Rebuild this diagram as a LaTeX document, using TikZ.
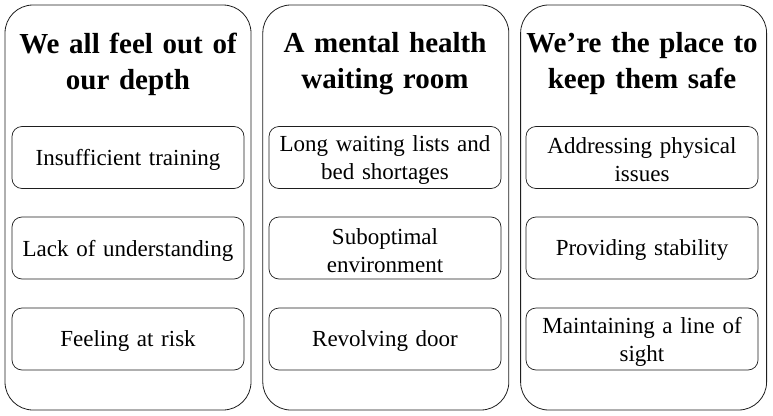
\documentclass[tikz,border=0pt]{standalone}
\usepackage{fontspec}
\setmainfont[WordSpace=0.85]{Liberation Serif}
\usepackage{tikz}
\usetikzlibrary{positioning}
\definecolor{myline}{RGB}{30,30,30}
\tikzset{
  panel/.style={rectangle, draw=myline, fill=white,
    minimum width=246pt, minimum height=405pt,
    rounded corners=28pt, line width=0.8pt},
  heading/.style={text width=240pt, align=center,
    font=\fontsize{29}{36}\selectfont\bfseries, inner sep=0pt},
  item/.style={rectangle, draw=myline, fill=white,
    minimum width=232pt, minimum height=62pt, text width=228pt,
    align=center, font=\fontsize{23}{28}\selectfont,
    rounded corners=10pt, line width=0.7pt, inner sep=0pt,
    execute at end node={\par\vspace{-5pt}}}
}
\begin{document}
\begin{tikzpicture}[x=1pt, y=-1pt]
  \useasboundingbox (0,0) rectangle (773,415);
  % columns
  \node[panel] (depth) at (128,207.5) {};
  \node[panel, right=11pt of depth] (waiting) {};
  \node[panel, right=11pt of waiting] (safe) {};
  % headings
  \node[heading] (hdepth) at (128,64) {We all feel out of\\our depth};
  \node[heading] (hwaiting) at (385,64) {A mental health\\waiting room};
  \node[heading] (hsafe) at (642,64) {We’re the place to\\keep them safe};
  % first column
  \node[item] (training) at (128,157.5) {Insufficient training};
  \node[item] (understanding) at (128,248) {Lack of understanding};
  \node[item] (risk) at (128,339) {Feeling at risk};
  % second column
  \node[item] (lists) at (385,157.5) {Long waiting lists and\\bed shortages};
  \node[item] (environment) at (385,248) {Suboptimal\\environment};
  \node[item] (door) at (385,339) {Revolving door};
  % third column
  \node[item] (physical) at (642,157.5) {Addressing physical\\issues};
  \node[item] (stability) at (642,248) {Providing stability};
  \node[item] (sight) at (642,339) {Maintaining a line of\\sight};
\end{tikzpicture}
\end{document}
